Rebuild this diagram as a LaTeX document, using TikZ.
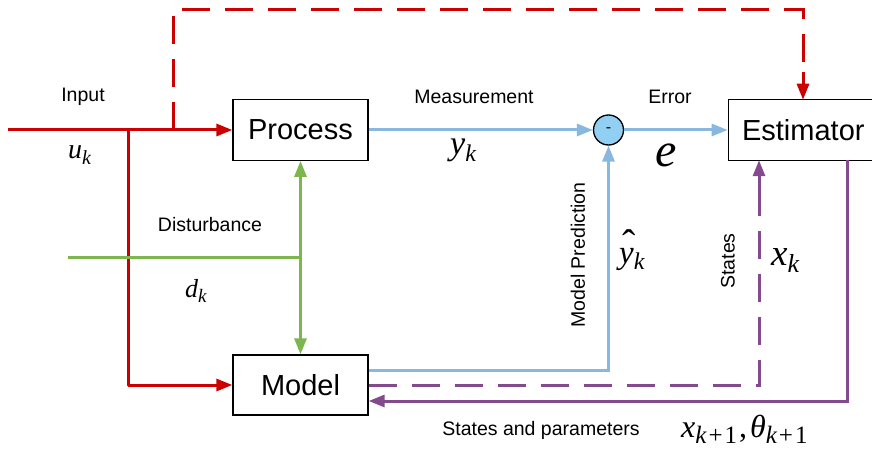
\documentclass[tikz,border=0pt]{standalone}
\usepackage{fontspec}
\setmainfont{Liberation Sans}
\newfontfamily\symfont{Liberation Serif}
\usetikzlibrary{arrows.meta}
\definecolor{cred}{HTML}{CC0000}
\definecolor{cblue}{HTML}{88B8E0}
\definecolor{cgreen}{HTML}{7DB64F}
\definecolor{cpurple}{HTML}{834A8D}
\definecolor{csum}{HTML}{91CFF3}
\tikzset{
  block/.style={draw=black, line width=1.3pt, fill=white, inner sep=0pt,
    font=\fontsize{29}{33}\selectfont},
  wire/.style={line width=3pt},
  tip/.style={-{Triangle[length=16pt,width=12pt]}},
  dash28/.style={dash pattern=on 28pt off 15pt},
  lbl/.style={font=\fontsize{19.5}{22}\selectfont, inner sep=0pt},
  sym/.style={inner sep=0pt, anchor=base west, font=\symfont\itshape},
}
% italic symbol with a lowered subscript: {size}{subscript size}{base}{subscript}
\newcommand{\ivar}[4]{{\fontsize{#1}{#1}\selectfont #3\raisebox{-0.2em}{\fontsize{#2}{#2}\selectfont #4}}}
% upright "+1" for subscripts
\newcommand{\plusone}{{\upshape\hspace{0.08em}+\hspace{0.08em}1}}
% letter with a circumflex set above it
\newcommand{\hatted}[1]{\makebox[0pt][l]{\hspace{0.1em}\raisebox{0.16em}{\upshape\fontsize{40}{40}\selectfont ˆ}}#1}
\begin{document}
\begin{tikzpicture}[x=1pt,y=-1pt]
\useasboundingbox (0,0) rectangle (872,449);
\clip (0,0) rectangle (872,449);
\fill[white] (0,0) rectangle (872,449);

% blocks
\node[block, minimum width=135pt, minimum height=60.5pt] (proc) at (300.5,130) {Process};
\node[block, minimum width=135pt, minimum height=60pt] (model) at (300.5,385) {Model};
\node[block, minimum width=150pt, minimum height=60.5pt] (est) at (803.3,130) {Estimator};
\node[circle, draw=black, line width=1.3pt, fill=csum, minimum size=30pt, inner sep=0pt,
      font=\fontsize{16}{16}\selectfont] (sum) at (608.5,130) {-};

% helper points
\coordinate (in) at (8,130);
\coordinate (bu) at (128,130);
\coordinate (bd) at (128,385);
\coordinate (tap) at (173,130);
\coordinate (dl) at (68,257);
\coordinate (dj) at (300.5,257);

% input
\draw[wire, cred, tip] (in) -- (proc.west);
\draw[wire, cred, tip, line join=round] (bu) -- (bd) -- (model.west);
\draw[wire, cred, dash28, line join=miter] (tap) -- (173,10) -- (803,10) -- (803,75);
\draw[wire, cred, tip] (803,72) -- (803,99.75);

% disturbance
\draw[wire, cgreen] (dl) -- (dj);
\draw[wire, cgreen, tip] (dj) -- (proc.south);
\draw[wire, cgreen, tip] (dj) -- (model.north);

% measurement and error
\draw[wire, cblue, tip] (proc.east) -- (sum.west);
\draw[wire, cblue, tip] (sum.east) -- (est.west);
\draw[wire, cblue, tip, line join=miter] (model.east |- 0,370) -- (608.5,370) -- (sum.south);

% states
\draw[wire, cpurple, dash28] (model.east |- 0,385) -- (759,385) -- (759,185);
\draw[wire, cpurple, tip] (759,190) -- (759,160.25);
\draw[wire, cpurple, tip, line join=miter] (847,160.25) -- (847,401) -- (model.east |- 0,401);

% labels
\node[lbl] (tin) at (83,97) {Input};
\node[lbl] (tmeas) at (474,97) {Measurement};
\node[lbl] (terr) at (670,97) {Error};
\node[lbl] (tdist) at (210,225) {Disturbance};
\node[lbl, rotate=90] (tpred) at (578,255) {Model Prediction};
\node[lbl, rotate=90] (tst) at (728,261) {States};
\node[lbl] (tsp) at (541,430) {States and parameters};

% symbols, placed by their baselines
\node[sym] (uk) at (68,159) {\ivar{28}{20}{u}{k}};
\node[sym] (yk) at (450,155) {\ivar{34}{24}{y}{k}};
\node[sym] (ee) at (655,167) {\fontsize{48}{48}\selectfont e};
\node[sym] (dk) at (185,297) {\ivar{26}{19}{d}{k}};
\node[sym] (yh) at (619,263) {\ivar{33}{24}{\hatted{y}}{k}};
\node[sym] (xk) at (771,265) {\ivar{37}{26}{x}{k}};
\node[sym] (xt) at (681,437) {\ivar{32}{25}{x}{k\plusone}\hspace{0.2em}{\fontsize{32}{32}\selectfont\upshape ,}\hspace{0.3em}\ivar{32}{25}{θ}{k\plusone}};
\end{tikzpicture}
\end{document}
